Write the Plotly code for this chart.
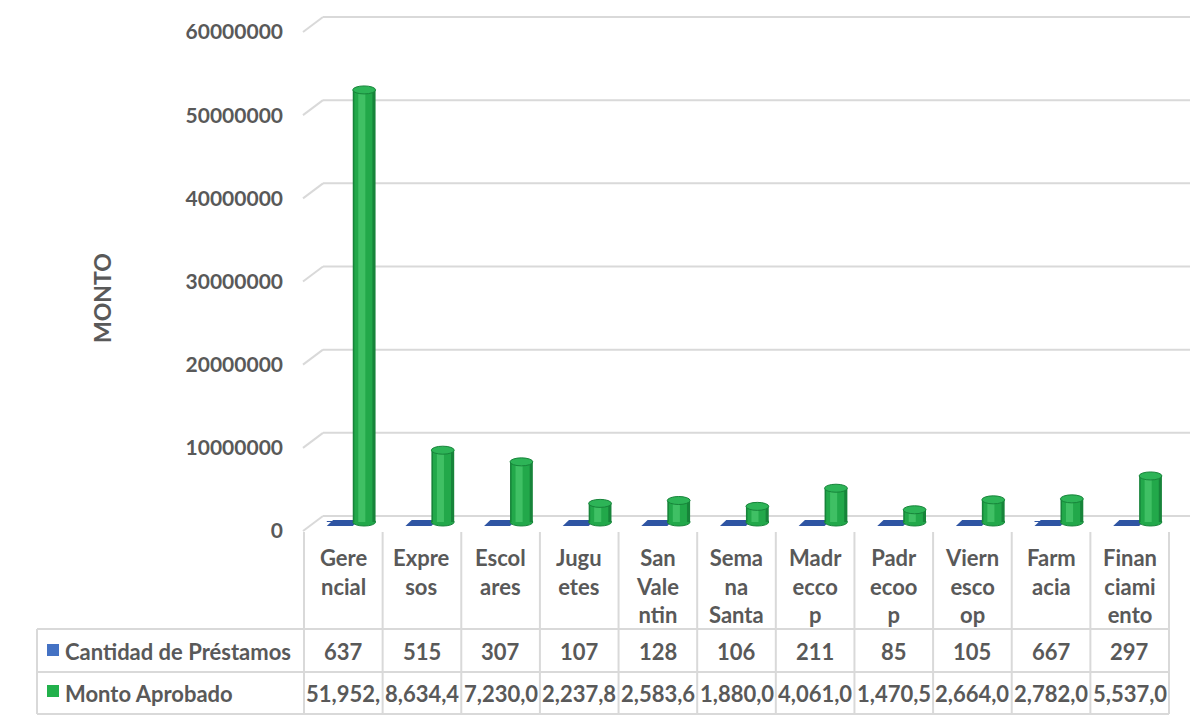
import plotly.graph_objects as go

# ---------------- data ----------------
categories = ["Gerencial", "Expresos", "Escolares", "Juguetes", "San Valentin",
              "Semana Santa", "Madreccop", "Padrecoop", "Viernescoop",
              "Farmacia", "Financiamiento"]
category_labels = ["Gere<br>ncial", "Expre<br>sos", "Escol<br>ares", "Jugu<br>etes",
                   "San<br>Vale<br>ntin", "Sema<br>na<br>Santa", "Madr<br>ecco<br>p",
                   "Padr<br>ecoo<br>p", "Viern<br>esco<br>op", "Farm<br>acia",
                   "Finan<br>ciami<br>ento"]
cantidad = [637, 515, 307, 107, 128, 106, 211, 85, 105, 667, 297]
monto = [51952000, 8634400, 7230000, 2237800, 2583600, 1880000,
         4061000, 1470500, 2664000, 2782000, 5537000]
series_names = ["Cantidad de Préstamos", "Monto Aprobado"]
y_ticks = [0, 10000000, 20000000, 30000000, 40000000, 50000000, 60000000]
y_title = "MONTO"

# ---------------- style / geometry ----------------
OFF = 8                      # page body margin
W, H = 1200 - 2 * OFF, 725 - 2 * OFF
FONT = "Lato"
TXT = "#595959"
GRID = "#D9D9D9"
BLUE_KEY = "#4472C4"
BLUE_BAR = "#2F55A3"
GREEN_KEY = "#22B14C"
GREEN_DARK = "#17843A"
GREEN = "#22A84A"
GREEN_LIGHT = "#3FC064"
GREEN_TOP = "#2DB457"


def px(x):
    return (x - OFF) / W


def py(y):
    return 1 - (y - OFF) / H


# axis geometry (screen pixels of the reference)
COL_L, COL_R = 304, 1169          # table columns / categories
PLOT_L, PLOT_R = 296, 1192        # plotting area incl. 3D decorations
Y0_PX, YMAX_PX = 522, 23          # pixel rows of 0 and of the top tick (bar plane)
YBOT_PX, YTOP_PX = 536, 9         # plotting area incl. 3D decorations
ncat = len(categories)
u_per_px = ncat / (COL_R - COL_L)
x_range = [-0.5 - (COL_L - PLOT_L) * u_per_px, ncat - 0.5 + (PLOT_R - COL_R) * u_per_px]
v_per_px = y_ticks[-1] / (Y0_PX - YMAX_PX)
y_range = [-(YBOT_PX - Y0_PX) * v_per_px, y_ticks[-1] + (YMAX_PX - YTOP_PX) * v_per_px]

fig = go.Figure()

# blue series (near-zero heights on this scale)
fig.add_trace(go.Bar(x=categories, y=cantidad, name=series_names[0],
                     marker=dict(color=BLUE_BAR, line=dict(width=0)),
                     offset=-0.21, width=0.33, showlegend=False))
# green cylinders: layered bars for shading
fig.add_trace(go.Bar(x=categories, y=monto, name=series_names[1],
                     marker=dict(color=GREEN_DARK, line=dict(width=0)),
                     offset=0.12, width=0.29, showlegend=False))
fig.add_trace(go.Bar(x=categories, y=monto, name=series_names[1],
                     marker=dict(color=GREEN, line=dict(width=0)),
                     offset=0.14, width=0.23, showlegend=False, hoverinfo="skip"))
fig.add_trace(go.Bar(x=categories, y=monto, name=series_names[1],
                     marker=dict(color=GREEN_LIGHT, line=dict(width=0)),
                     offset=0.19, width=0.09, showlegend=False, hoverinfo="skip"))

shapes = []
# 3D-style gridlines (front-left stub + back wall line)
for v in y_ticks:
    shapes.append(dict(type="line", xref="paper", yref="y", ysizemode="pixel", yanchor=v,
                       x0=px(303), x1=px(323), y0=-9, y1=6,
                       line=dict(color=GRID, width=2), layer="below"))
    shapes.append(dict(type="line", xref="paper", yref="y", ysizemode="pixel", yanchor=v,
                       x0=px(323), x1=px(1190), y0=6, y1=6,
                       line=dict(color=GRID, width=2), layer="below"))

for i, c in enumerate(cantidad):
    # flat blue slab on the floor
    shapes.append(dict(type="path", xref="x", yref="y", ysizemode="pixel", yanchor=0,
                       path=f"M {i - 0.21},-4 L {i - 0.13},2 L {i + 0.2},2 L {i + 0.12},-4 Z",
                       fillcolor=BLUE_BAR, line=dict(width=0), layer="below"))

for i, v in enumerate(monto):
    # cylinder bottom ellipse
    shapes.append(dict(type="circle", xref="x", yref="y", ysizemode="pixel", yanchor=0,
                       x0=i + 0.12, x1=i + 0.41, y0=-4, y1=4,
                       fillcolor=GREEN, line=dict(color=GREEN_DARK, width=1), layer="below"))
    # cylinder top ellipse
    shapes.append(dict(type="circle", xref="x", yref="y", ysizemode="pixel", yanchor=v,
                       x0=i + 0.12, x1=i + 0.41, y0=-4, y1=4,
                       fillcolor=GREEN_TOP, line=dict(color=GREEN_DARK, width=1), layer="above"))

# data table lines
for yy in (629, 672, 714):
    shapes.append(dict(type="line", xref="paper", yref="paper",
                       x0=px(37), x1=px(COL_R), y0=py(yy), y1=py(yy),
                       line=dict(color=GRID, width=2)))
shapes.append(dict(type="line", xref="paper", yref="paper",
                   x0=px(37), x1=px(37), y0=py(629), y1=py(714),
                   line=dict(color=GRID, width=2)))
for k in range(ncat + 1):
    shapes.append(dict(type="line", xref="x", yref="paper",
                       x0=k - 0.5, x1=k - 0.5, y0=py(532), y1=py(714),
                       line=dict(color=GRID, width=2)))

# legend keys in the table
shapes.append(dict(type="rect", xref="paper", yref="paper",
                   x0=px(47), x1=px(59), y0=py(656), y1=py(644),
                   fillcolor=BLUE_KEY, line=dict(width=0)))
shapes.append(dict(type="rect", xref="paper", yref="paper",
                   x0=px(47), x1=px(59), y0=py(697), y1=py(685),
                   fillcolor=GREEN_KEY, line=dict(width=0)))

annotations = []
tfont = dict(family=FONT, size=22, color=TXT)
for i, lab in enumerate(category_labels):
    annotations.append(dict(xref="x", yref="paper", x=i, y=py(542), yanchor="top",
                            xanchor="center", text=f"<b>{lab}</b>", showarrow=False,
                            font=tfont, align="center"))
    annotations.append(dict(xref="x", yref="paper", x=i, y=py(651), yanchor="middle",
                            xanchor="center", text=f"<b>{cantidad[i]}</b>", showarrow=False,
                            font=tfont))
    annotations.append(dict(xref="x", yref="paper", x=i, y=py(693), yanchor="middle",
                            xanchor="center", text=f"<b>{f'{monto[i]:,.0f}'[:7]}</b>",
                            showarrow=False, font=tfont))

annotations.append(dict(xref="paper", yref="paper", x=px(63), y=py(651), xanchor="left",
                        yanchor="middle", text=f"<b>{series_names[0]}</b>", showarrow=False,
                        font=tfont))
annotations.append(dict(xref="paper", yref="paper", x=px(63), y=py(693), xanchor="left",
                        yanchor="middle", text=f"<b>{series_names[1]}</b>", showarrow=False,
                        font=tfont))
annotations.append(dict(xref="paper", yref="paper", x=px(102), y=py(298), xanchor="center",
                        yanchor="middle", text=f"<b>{y_title}</b>", textangle=-90,
                        showarrow=False, font=dict(family=FONT, size=23, color=TXT)))

fig.update_layout(
    width=W, height=H,
    margin=dict(l=0, r=0, t=0, b=0, autoexpand=False),
    paper_bgcolor="white", plot_bgcolor="rgba(0,0,0,0)",
    barmode="overlay",
    showlegend=False,
    shapes=shapes,
    annotations=annotations,
    xaxis=dict(domain=[px(PLOT_L), px(PLOT_R)], range=x_range, showticklabels=False,
               showgrid=False, zeroline=False, showline=False, ticks="", automargin=False,
               categoryorder="array", categoryarray=categories, fixedrange=True),
    yaxis=dict(domain=[py(YBOT_PX), py(YTOP_PX)], range=y_range, tickvals=y_ticks,
               ticktext=[f"<b>{v}</b>" for v in y_ticks], automargin=False,
               showgrid=False, zeroline=False, showline=False, ticks="",
               ticklabelshift=9, ticklabelstandoff=12,
               tickfont=dict(family=FONT, size=21, color=TXT), fixedrange=True),
    font=dict(family=FONT, color=TXT),
)

fig.write_html("out.html")
